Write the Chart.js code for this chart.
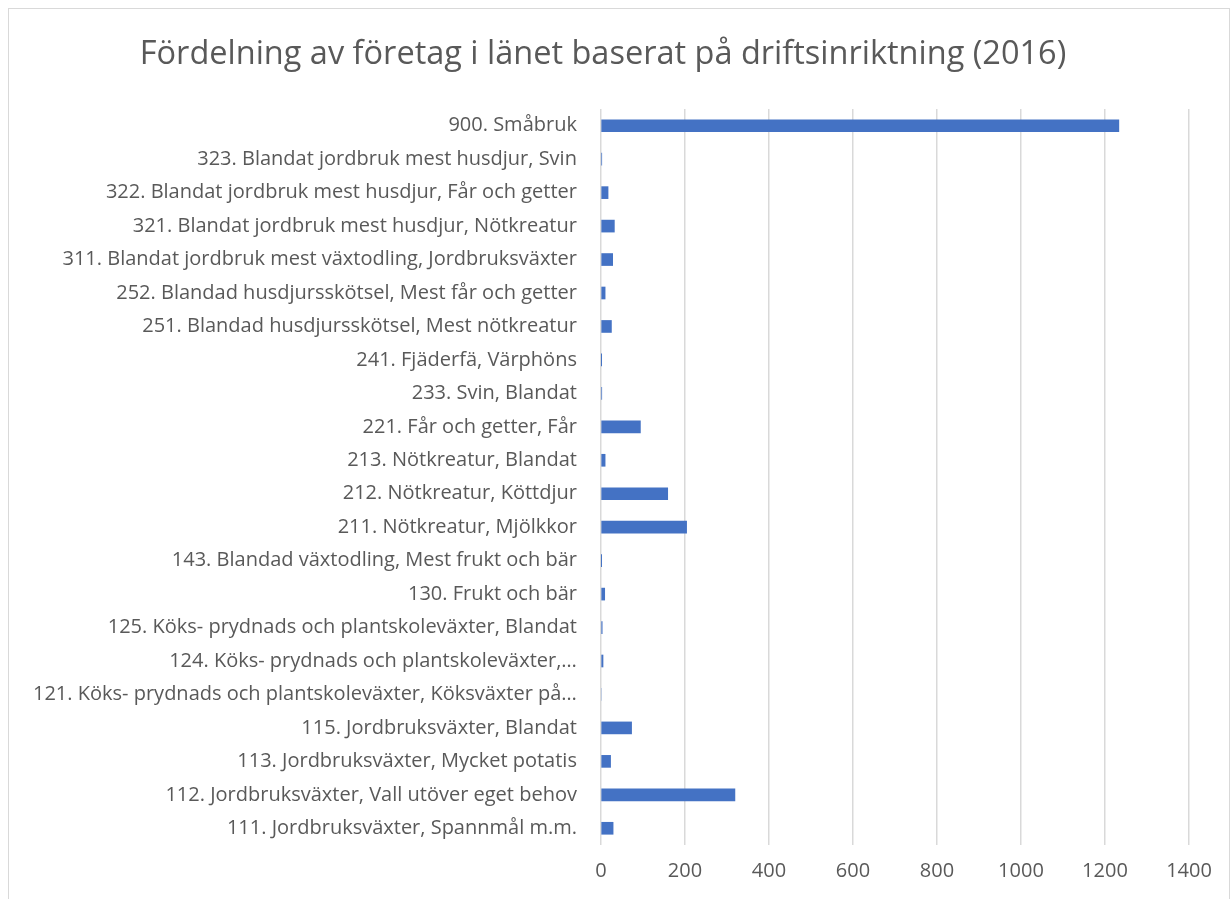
<!DOCTYPE html>
<html>
<head>
<meta charset="utf-8">
<script src="https://cdn.jsdelivr.net/npm/chart.js@4.4.1/dist/chart.umd.min.js"></script>
<style>
  html, body { margin: 0; padding: 0; background: #fff; }
  #wrap {
    position: absolute; left: 8px; top: 8px; width: 1222px; height: 900px;
    border: 1px solid #d9d9d9; box-sizing: border-box; background: #fff;
  }
  canvas { display: block; }
</style>
</head>
<body>
<div id="wrap"><canvas id="driftChart"></canvas></div>
<script>
const categories = [
    '900. Småbruk',
    '323. Blandat jordbruk mest husdjur, Svin',
    '322. Blandat jordbruk mest husdjur, Får och getter',
    '321. Blandat jordbruk mest husdjur, Nötkreatur',
    '311. Blandat jordbruk mest växtodling, Jordbruksväxter',
    '252. Blandad husdjursskötsel, Mest får och getter',
    '251. Blandad husdjursskötsel, Mest nötkreatur',
    '241. Fjäderfä, Värphöns',
    '233. Svin, Blandat',
    '221. Får och getter, Får',
    '213. Nötkreatur, Blandat',
    '212. Nötkreatur, Köttdjur',
    '211. Nötkreatur, Mjölkkor',
    '143. Blandad växtodling, Mest frukt och bär',
    '130. Frukt och bär',
    '125. Köks- prydnads och plantskoleväxter, Blandat',
    '124. Köks- prydnads och plantskoleväxter,…',
    '121. Köks- prydnads och plantskoleväxter, Köksväxter på…',
    '115. Jordbruksväxter, Blandat',
    '113. Jordbruksväxter, Mycket potatis',
    '112. Jordbruksväxter, Vall utöver eget behov',
    '111. Jordbruksväxter, Spannmål m.m.'
];
const antalForetag = [1233, 2, 17, 32, 28, 10, 25, 1, 2, 94, 10, 159, 204, 1, 9, 3, 5, 0, 73, 23, 319, 29];
const xTicks = [0, 200, 400, 600, 800, 1000, 1200, 1400];

const textColor = '#595959';
const fontFamily = "'Open Sans', sans-serif";

const ctx = document.getElementById('driftChart').getContext('2d');
new Chart(ctx, {
    type: 'bar',
    data: {
        labels: categories,
        datasets: [{
            label: 'Antal företag',
            data: antalForetag,
            backgroundColor: '#4472c4',
            borderWidth: 0,
            barThickness: 12
        }]
    },
    options: {
        indexAxis: 'y',
        responsive: true,
        maintainAspectRatio: false,
        animation: false,
        layout: { padding: { left: 8, right: 40, top: 0, bottom: 10 } },
        plugins: {
            legend: { display: false },
            tooltip: { enabled: false },
            title: {
                display: true,
                text: 'Fördelning av företag i länet baserat på driftsinriktning (2016)',
                color: textColor,
                font: { family: fontFamily, size: 32.5, weight: 'normal' },
                padding: { top: 26, bottom: 35 }
            }
        },
        scales: {
            x: {
                min: 0,
                max: 1400,
                afterBuildTicks: function(axis) {
                    axis.ticks = xTicks.map(v => ({ value: v }));
                },
                grid: { color: '#d9d9d9', lineWidth: 1.5, drawTicks: false },
                border: { display: false },
                ticks: {
                    color: textColor,
                    padding: 14,
                    font: { family: fontFamily, size: 20 },
                    callback: function(value) { return String(value); }
                }
            },
            y: {
                grid: { display: false },
                border: { display: false },
                ticks: {
                    color: textColor,
                    padding: 16,
                    autoSkip: false,
                    font: { family: fontFamily, size: 20 }
                }
            }
        }
    }
});
</script>
</body>
</html>
